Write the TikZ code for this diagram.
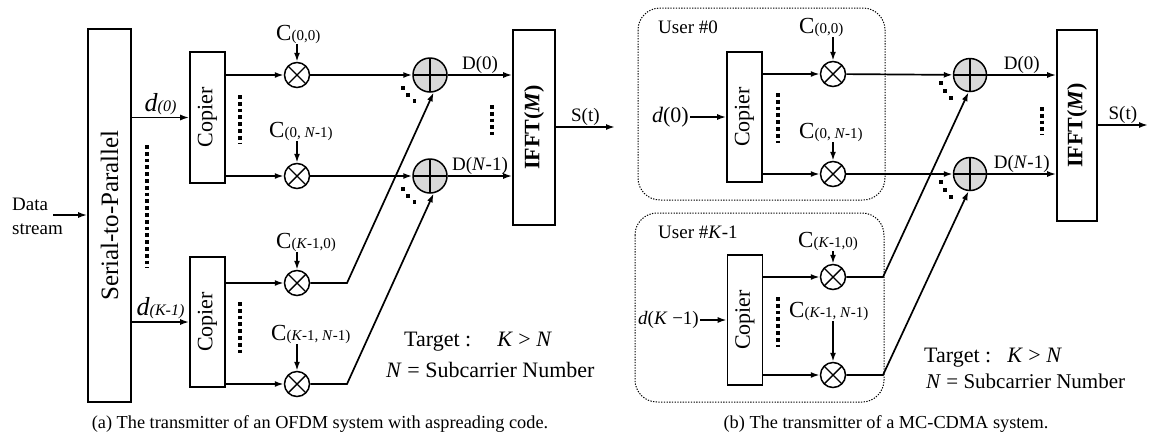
\documentclass[tikz,border=0pt]{standalone}
\usepackage{fontspec}
\setmainfont{Liberation Serif}
\usepackage{tikz}
\usetikzlibrary{arrows.meta}
\tikzset{%
  blk/.style 2 args={draw, line width=1.6pt, inner sep=0, rectangle, minimum width=#1, minimum height=#2},
  mult/.style={draw, circle, line width=1.5pt, inner sep=0, minimum size=25pt, fill=white,
    path picture={\draw[line width=1.4pt] (path picture bounding box.north west) -- (path picture bounding box.south east)
      (path picture bounding box.north east) -- (path picture bounding box.south west);}},
  adder/.style={draw, circle, line width=1.5pt, inner sep=0, minimum size=34pt, fill=gray!30,
    path picture={\draw[line width=1.4pt] (path picture bounding box.north) -- (path picture bounding box.south)
      (path picture bounding box.east) -- (path picture bounding box.west);}},
  wire/.style={line width=1.7pt, -{Latex[length=9pt,width=6pt]}},
  plain/.style={line width=1.7pt},
  sqdots/.style={line width=3.8pt, dash pattern=on 3.8pt off 3pt},
  ubox/.style={draw, line width=1pt, dash pattern=on 1.3pt off 1.4pt, rounded corners=22pt},
  lbl/.style={font=\fontsize{19}{24}\selectfont, inner sep=1pt},
  big/.style={font=\fontsize{22}{26}\selectfont, inner sep=1pt},
  captxt/.style={font=\fontsize{18.3}{22}\selectfont, inner sep=0},
  rot/.style={rotate=90, font=\fontsize{#1}{#1}\selectfont}
}
\newcommand{\ccode}[1]{{\fontsize{23}{26}\selectfont C}{\fontsize{15}{18}\selectfont(#1)}}
\newcommand{\dsmall}[1]{{\fontsize{26}{28}\selectfont\itshape d}{\fontsize{16}{18}\selectfont\itshape(#1)}}

\begin{document}
\begin{tikzpicture}[x=1pt, y=-1pt]
\useasboundingbox (0,0) rectangle (1150,432);

% ---- (a) OFDM with spreading code
\node (sp_box) at (109.5,215.5) [blk={43pt}{373pt}, label={[rot=25]center:Serial-to-Parallel}] {};
\node (data) at (12,216) [anchor=west, align=left, lbl, inner sep=0] {Data\\stream};
\coordinate (data_in) at (53,215);
\draw[wire] (data_in) -- (sp_box.west |- data_in);

\node (copier_a0) at (207.5,117.5) [blk={35pt}{131pt}, label={[rot=22]center:Copier}] {};
\node (copier_a1) at (207.5,322) [blk={35pt}{130pt}, label={[rot=22]center:Copier}] {};
\draw[wire] (sp_box.east |- copier_a0) -- node[above, inner sep=2pt] (d_a0) {\dsmall{0}} (copier_a0.west);
\draw[wire] (sp_box.east |- copier_a1) -- node[above, inner sep=2pt] (d_a1) {\dsmall{K-1}} (copier_a1.west);
\draw[sqdots] (147,145) -- (147,268);

\node (mult_a00) at (297,75) [mult] {};
\node (mult_a01) at (297,176) [mult] {};
\node (mult_a10) at (297,283) [mult] {};
\node (mult_a11) at (297,384) [mult] {};
\draw[wire] (copier_a0.east |- mult_a00) -- (mult_a00);
\draw[wire] (copier_a0.east |- mult_a01) -- (mult_a01);
\draw[wire] (copier_a1.east |- mult_a10) -- (mult_a10);
\draw[wire] (copier_a1.east |- mult_a11) -- (mult_a11);
\draw[sqdots] (240,95) -- (240,143);
\draw[sqdots] (240,302) -- (240,353);

\node (code_a00) at (275,40) [anchor=base west, inner sep=1pt] {\ccode{0,0}};
\node (code_a01) at (268,137) [anchor=base west, inner sep=1pt] {\ccode{0, \textit{N}-1}};
\node (code_a10) at (275,248) [anchor=base west, inner sep=1pt] {\ccode{\textit{K}-1,0}};
\node (code_a11) at (270,340) [anchor=base west, inner sep=1pt] {\ccode{\textit{K}-1, \textit{N}-1}};
\draw[wire] (mult_a00 |- code_a00.south) -- (mult_a00);
\draw[wire] (mult_a01 |- code_a01.south) -- (mult_a01);
\draw[wire] (mult_a10 |- code_a10.south) -- (mult_a10);
\draw[wire] (mult_a11 |- code_a11.south) -- (mult_a11);

\node (add_a0) at (430,75) [adder] {};
\node (add_a1) at (430,176) [adder] {};
\coordinate (bend_a10) at (347,283);
\coordinate (bend_a11) at (347,384);
\draw[wire] (mult_a00) -- (add_a0);
\draw[wire] (mult_a01) -- (add_a1);
\draw[wire] (mult_a10) -- (bend_a10) -- (add_a0.-78);
\draw[wire] (mult_a11) -- (bend_a11) -- (add_a1.-78);
\foreach \ang in {155,138,121} {
  \fill (add_a0) ++(\ang:30) ++(-1.9,-1.9) rectangle ++(3.8,3.8);
  \fill (add_a1) ++(\ang:30) ++(-1.9,-1.9) rectangle ++(3.8,3.8);
}

\node (ifft_a) at (534,127.5) [blk={42pt}{195pt}, label={[rot=22, font=\fontsize{22}{22}\selectfont\bfseries]center:IFFT(\textit{M})}] {};
\draw[wire] (add_a0) -- node[above, lbl] (dl_a0) {D(0)} (ifft_a.west |- add_a0);
\draw[wire] (add_a1) -- node[above, lbl] (dl_a1) {D(\textit{N}-1)} (ifft_a.west |- add_a1);
\draw[sqdots] (492,105) -- (492,135);
\coordinate (s_a) at (615,127);
\draw[wire] (ifft_a.east |- s_a) -- node[above, lbl] (sl_a) {S(t)} (s_a);

\node (target_a) at (403,346) [anchor=base west, big] {Target :\hspace{26pt}\textit{K} > \textit{N}};
\node (subc_a) at (385,377) [anchor=base west, big] {\textit{N} = Subcarrier Number};
\node (cap_a) at (320,428) [anchor=base, captxt] {(a) The transmitter of an OFDM system with aspreading code.};

% ---- (b) MC-CDMA
\draw[ubox] (638,8) rectangle (885,200);
\draw[ubox] (635,213) rectangle (884,402);
\node (user_b0) at (657,33) [anchor=base west, lbl] {User \#0};
\node (user_b1) at (657,238) [anchor=base west, lbl] {User \#\textit{K}-1};

\node (copier_b0) at (744.5,117) [blk={35pt}{130pt}, label={[rot=22]center:Copier}] {};
\node (copier_b1) at (745,320) [blk={35pt}{130pt}, label={[rot=22]center:Copier}] {};
\node (d_b0) at (690,117) [anchor=east, big] {\textit{d}(0)};
\node (d_b1) at (700,320) [anchor=east, lbl] {\textit{d}(\textit{K} −1)};
\draw[wire] (d_b0) -- (copier_b0);
\draw[wire] (d_b1) -- (copier_b1);

\node (mult_b00) at (833,74) [mult] {};
\node (mult_b01) at (833,174) [mult] {};
\node (mult_b10) at (833,277) [mult] {};
\node (mult_b11) at (833,375) [mult] {};
\draw[wire] (copier_b0.east |- mult_b00) -- (mult_b00);
\draw[wire] (copier_b0.east |- mult_b01) -- (mult_b01);
\draw[wire] (copier_b1.east |- mult_b10) -- (mult_b10);
\draw[wire] (copier_b1.east |- mult_b11) -- (mult_b11);
\draw[sqdots] (778,93) -- (778,143);
\draw[sqdots] (778,297) -- (778,347);

\node (code_b00) at (798,33) [anchor=base west, inner sep=1pt] {\ccode{0,0}};
\node (code_b01) at (798,138) [anchor=base west, inner sep=1pt] {\ccode{0, \textit{N}-1}};
\node (code_b10) at (797,247) [anchor=base west, inner sep=1pt] {\ccode{\textit{K}-1,0}};
\node (code_b11) at (788,317) [anchor=base west, inner sep=1pt] {\ccode{\textit{K}-1, \textit{N}-1}};
\draw[wire] (mult_b00 |- code_b00.south) -- (mult_b00);
\draw[wire] (mult_b01 |- code_b01.south) -- (mult_b01);
\draw[wire] (mult_b10 |- code_b10.south) -- (mult_b10);
\draw[wire] (mult_b11 |- code_b11.south) -- (mult_b11);

\node (add_b0) at (970,75) [adder, minimum size=33pt] {};
\node (add_b1) at (970,174) [adder, minimum size=33pt] {};
\coordinate (bend_b10) at (883,277);
\coordinate (bend_b11) at (883,375);
\draw[wire] (mult_b00) -- (add_b0);
\draw[wire] (mult_b01) -- (add_b1);
\draw[wire] (mult_b10) -- (bend_b10) -- (add_b0.-95);
\draw[wire] (mult_b11) -- (bend_b11) -- (add_b1.-95);
\foreach \ang in {165,147,129} {
  \fill (add_b0) ++(\ang:30) ++(-1.9,-1.9) rectangle ++(3.8,3.8);
  \fill (add_b1) ++(\ang:30) ++(-1.9,-1.9) rectangle ++(3.8,3.8);
}

\node (ifft_b) at (1077,125.5) [blk={40pt}{191pt}, label={[rot=22, font=\fontsize{22}{22}\selectfont\bfseries]center:IFFT(\textit{M})}] {};
\draw[wire] (add_b0) -- node[above, lbl] (dl_b0) {D(0)} (ifft_b.west |- add_b0);
\draw[wire] (add_b1) -- node[above, lbl] (dl_b1) {D(\textit{N}-1)} (ifft_b.west |- add_b1);
\draw[sqdots] (1042,107) -- (1042,135);
\coordinate (s_b) at (1148,125);
\draw[wire] (ifft_b.east |- s_b) -- node[above, lbl] (sl_b) {S(t)} (s_b);

\node (target_b) at (923,362) [anchor=base west, big] {Target :\hspace{16pt}\textit{K} > \textit{N}};
\node (subc_b) at (925,388) [anchor=base west, lbl, font=\fontsize{21}{24}\selectfont] {\textit{N} = Subcarrier Number};
\node (cap_b) at (886,428) [anchor=base, captxt] {(b) The transmitter of a MC-CDMA system.};

\end{tikzpicture}
\end{document}
